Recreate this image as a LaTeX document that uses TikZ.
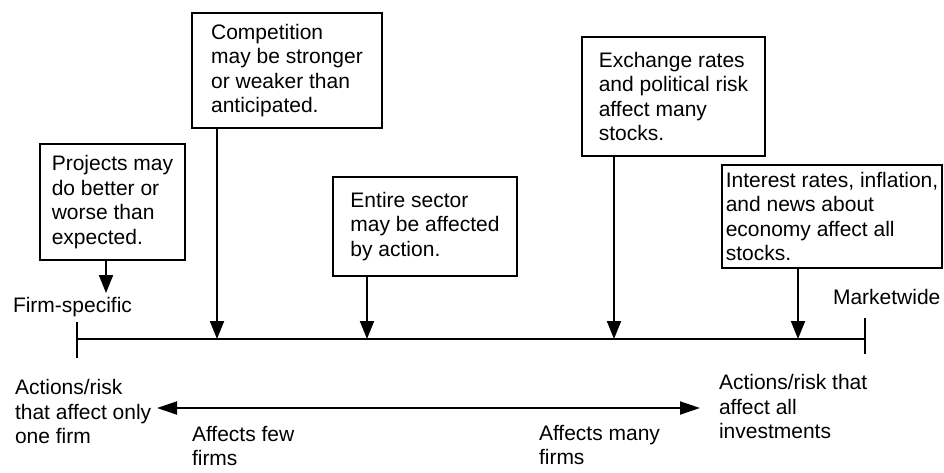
\documentclass[tikz,border=0pt]{standalone}
\usepackage{fontspec}
\setmainfont{Liberation Sans}
\usetikzlibrary{arrows.meta,calc}
\begin{document}
\begin{tikzpicture}[x=1pt,y=-1pt,
  every node/.style={font=\fontsize{21}{24.5}\selectfont, inner sep=0pt, outer sep=0pt},
  riskbox/.style={draw, line width=1.9pt, align=left, anchor=north west},
  lbl/.style={align=left, anchor=north west},
  arr/.style={line width=1.9pt, -{Triangle[width=14pt,length=18pt]}},
  axis/.style={line width=1.9pt},
  ]
\useasboundingbox (0,0) rectangle (944,472);
% boxes
\node[riskbox, minimum width=145pt, minimum height=116pt] (proj) at (40,144)
  {Projects may\\do better or\\worse than\\expected.};
\node[riskbox, minimum width=190pt, minimum height=115pt] (comp) at (192,13)
  {Competition\\may be stronger\\or weaker than\\anticipated.};
\node[riskbox, minimum width=184pt, minimum height=99pt] (sect) at (333,177)
  {Entire sector\\may be affected\\by action.};
\node[riskbox, minimum width=183pt, minimum height=119pt] (exch) at (582,37)
  {Exchange rates\\and political risk\\affect many\\stocks.};
\node[riskbox, minimum width=220pt, minimum height=103pt] (intr) at (722,165)
  {Interest rates, inflation,\\and news about\\economy affect all\\stocks.};
% labels
\node[anchor=base west] (fs) at (13,312.5) {Firm-specific};
\node[anchor=base west] (mw) at (833,304.5) {Marketwide};
\node[lbl] (one) at (15,379.5) {Actions/risk\\that affect only\\one firm};
\node[lbl] (all) at (719,374.5) {Actions/risk that\\affect all\\investments};
\node[lbl] (few) at (192,426) {Affects few\\firms};
\node[lbl] (many) at (539,425) {Affects many\\firms};
% main axis
\coordinate (L) at (77,339);
\coordinate (R) at (865,339);
\coordinate (Lt) at (77,322);
\coordinate (Lb) at (77,358);
\coordinate (Rt) at (865,318);
\coordinate (Rb) at (865,354);
\draw[axis] (L) -- (R);
\draw[axis] (Lt) -- (Lb);
\draw[axis] (Rt) -- (Rb);
% arrows from boxes
\coordinate (a1) at (106,293);
\coordinate (t2) at (217,339);
\coordinate (t3) at (367,339);
\coordinate (t4) at (614,339);
\coordinate (t5) at (798,339);
\draw[arr] (proj.south -| a1) -- (a1);
\draw[arr] (comp.south -| t2) -- (t2);
\draw[arr] (sect.south -| t3) -- (t3);
\draw[arr] (exch.south -| t4) -- (t4);
\draw[arr] (intr.south -| t5) -- (t5);
% double arrow
\coordinate (dl) at (157,408);
\coordinate (dr) at (700,408);
\draw[axis, {Triangle[width=13pt,length=20pt]}-{Triangle[width=13pt,length=20pt]}] (dl) -- (dr);
\end{tikzpicture}
\end{document}
